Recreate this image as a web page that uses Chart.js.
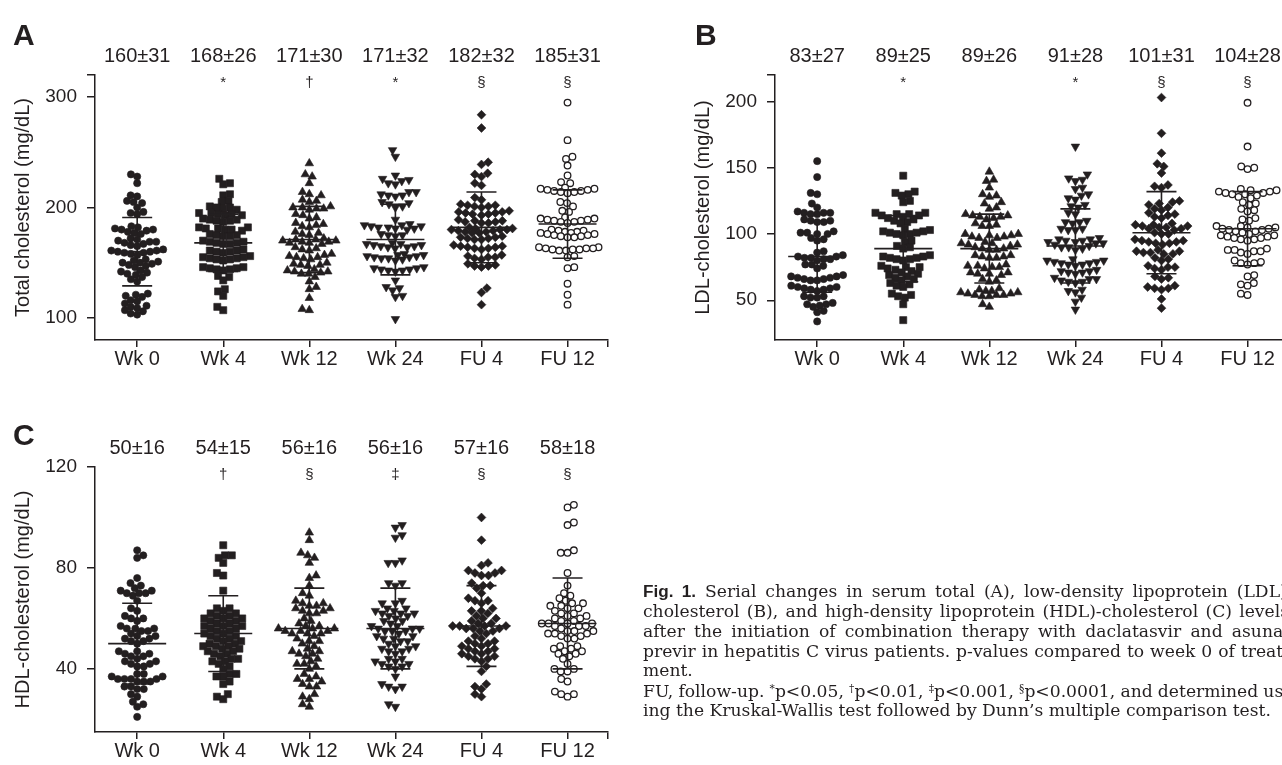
<!DOCTYPE html>
<html><head><meta charset="utf-8">
<script src="https://cdn.jsdelivr.net/npm/chart.js@4.4.1/dist/chart.umd.min.js"></script>
<style>
html,body{margin:0;padding:0;background:#fff;}
body{width:1282px;height:765px;overflow:hidden;position:relative;}
canvas{position:absolute;}
#cap{position:absolute;left:643px;top:0;width:700px;height:765px;color:#231f20;font-family:'DejaVu Serif',serif;}
#cap .ln{position:absolute;left:0;white-space:nowrap;line-height:1;}
#cap b{font-family:'Liberation Sans',Arial,sans-serif;font-weight:bold;}
#cap sup{font-size:0.62em;vertical-align:0.45em;line-height:0;}
</style></head>
<body>
<canvas id="cA" width="640" height="380" style="left:0;top:0"></canvas>
<canvas id="cB" width="640" height="380" style="left:680px;top:0"></canvas>
<canvas id="cC" width="640" height="373" style="left:0;top:392px"></canvas>
<div id="cap">
<div class="ln j" data-b="598"><b>Fig.&nbsp;1.</b> Serial changes in serum total (A), low-density lipoprotein (LDL)-</div>
<div class="ln j" data-b="618">cholesterol (B), and high-density lipoprotein (HDL)-cholesterol (C) levels</div>
<div class="ln j" data-b="638">after the initiation of combination therapy with daclatasvir and asuna-</div>
<div class="ln j" data-b="658">previr in hepatitis C virus patients. p-values compared to week 0 of treat-</div>
<div class="ln" data-b="677">ment.</div>
<div class="ln j" data-b="698">FU, follow-up. <sup>*</sup>p&lt;0.05, <sup>†</sup>p&lt;0.01, <sup>‡</sup>p&lt;0.001, <sup>§</sup>p&lt;0.0001, and determined us-</div>
<div class="ln" id="lastLine" data-b="717">ing the Kruskal-Wallis test followed by Dunn’s multiple comparison test.</div>
</div>
<script>
// ---------------- data ----------------
const categories = ['Wk 0', 'Wk 4', 'Wk 12', 'Wk 24', 'FU 4', 'FU 12'];

// (A) Total cholesterol, mg/dL
const tcWk0 = [230, 228, 222, 211, 210, 206, 205, 204, 200, 196, 195, 194,
  183, 182, 181, 180, 180, 179, 178, 177, 176,
  172, 171, 170, 169, 169, 168, 167, 166, 165,
  162, 161, 161, 160, 160, 159, 159, 158, 157,
  153, 152, 151, 150, 150, 149, 148, 147, 146,
  143, 142, 141, 140, 139, 137, 135, 133,
  122, 121, 120, 119, 116, 115, 113, 111, 110, 109, 107, 106, 104, 103];
const tcWk4 = [226, 222, 221, 212, 211, 206, 205,
  201, 200, 200, 199, 198, 195, 195, 194, 194, 193, 193,
  190, 189, 189, 188, 188, 187, 182, 182, 181, 181, 180, 180, 179,
  176, 175, 175, 174, 174, 170, 169, 169, 168, 168, 167, 167,
  162, 161, 161, 160, 160, 159, 156, 155, 155, 154, 154, 153, 153, 152,
  146, 146, 145, 145, 144, 144, 143, 138, 137, 134, 126, 124, 120, 110, 107];
const tcWk12 = [240, 230, 228, 222, 214, 212, 211, 207, 206, 205,
  201, 200, 200, 199, 199, 198, 194, 193, 191, 190,
  186, 185, 184, 183, 182, 178, 177, 176, 175,
  172, 171, 171, 170, 170, 169, 169, 168, 168, 167,
  164, 163, 162, 161, 158, 157, 156, 155, 155, 154, 153,
  150, 149, 148, 148, 147, 144, 143, 142, 142, 141, 140, 140,
  137, 133, 128, 126, 118, 108, 107];
const tcWk24 = [252, 246, 229, 226, 225, 224, 222, 221, 214, 214, 212, 211, 211, 210,
  205, 204, 203, 201, 200, 189,
  185, 184, 184, 183, 183, 182, 182, 181, 181, 180, 176, 175, 175, 174,
  168, 167, 167, 166, 166, 165, 165, 164, 164, 163,
  158, 157, 157, 156, 156, 155, 155, 154, 154, 153, 152,
  146, 145, 145, 144, 144, 143, 143, 142, 134, 128, 127, 125, 120, 119, 99];
const tcFU4 = [284, 272, 241, 239, 231, 230, 228, 222, 220,
  209, 207, 203, 202, 202, 201, 201, 200, 197, 196, 196, 195, 195, 194, 194, 193,
  189, 188, 188, 187, 187, 186, 186,
  182, 181, 181, 180, 180, 180, 179, 179, 178, 178, 177, 177,
  174, 173, 173, 172, 172, 171, 171, 166, 165, 165, 164, 164, 163, 163, 162,
  157, 156, 155, 155, 154, 153, 149, 148, 147, 147, 146, 127, 123, 112];
const tcFU12 = [295, 261, 246, 244, 238, 229, 223, 222,
  218, 217, 217, 216, 216, 215, 215, 214, 214, 213, 205, 204, 201, 197, 196,
  191, 190, 190, 189, 189, 188, 188, 187, 187, 186,
  180, 179, 179, 178, 178, 177, 177, 176, 176, 175, 175, 174, 174, 173, 173,
  164, 164, 163, 163, 163, 162, 162, 162, 161, 161, 156, 155, 146, 145, 131, 121, 112];
const tcMeans = [160, 168, 171, 171, 182, 185];
const tcSDs = [31, 26, 30, 32, 32, 31];
const tcSig = ['', '*', '†', '*', '§', '§'];
const tcTicks = [100, 200, 300];
const tcRange = [80, 320];

// (B) LDL-cholesterol, mg/dL
const ldlWk0 = [155, 143, 131, 130, 123, 120, 117, 116, 116, 116, 115, 115,
  111, 110, 110, 109, 109, 102, 101, 101, 100, 100, 97, 96, 95, 87, 86,
  84, 83, 83, 82, 82, 81, 81, 80, 77, 77, 76, 74,
  69, 68, 68, 67, 67, 66, 66, 65, 65, 61, 60, 60, 59, 59, 58, 58, 57,
  53, 53, 52, 52, 48, 47, 47, 46, 45, 42, 41, 34];
const ldlWk4 = [144, 132, 131, 130, 129, 125, 124,
  116, 116, 115, 115, 114, 114, 113, 112, 111, 110, 109, 108,
  104, 103, 102, 102, 101, 101, 100, 100, 99, 95, 94, 91, 90, 89,
  84, 83, 83, 82, 82, 81, 81, 80,
  76, 75, 75, 74, 73, 72, 71, 70, 69, 68, 67, 66,
  65, 63, 62, 61, 60, 55, 54, 53, 52, 47, 35];
const ldlWk12 = [147, 141, 140, 135, 130, 129, 128, 124, 123, 120, 119,
  115, 114, 114, 113, 113, 112, 111, 108, 107, 106, 106,
  100, 100, 99, 99, 98, 98, 97, 97, 94, 93, 93, 92, 92, 91, 90, 89, 89, 88, 88,
  84, 84, 83, 83, 82, 82, 77, 76, 76, 75, 75, 74, 71, 71, 70, 70, 69, 66, 65, 64,
  59, 58, 57, 57, 56, 56, 55, 55, 54, 54, 54, 53, 53, 47, 45];
const ldlWk24 = [166, 145, 142, 141, 140, 135, 134, 130, 129, 127, 126,
  122, 121, 120, 116, 115, 110, 109, 109, 108, 104, 104, 103, 103,
  97, 96, 96, 95, 95, 94, 94, 93, 93, 92, 91, 90, 90, 89, 88,
  81, 80, 80, 79, 79, 78, 78, 77, 77, 76, 73, 72, 72, 71, 71, 70,
  67, 66, 66, 65, 64, 64, 63, 58, 57, 56, 52, 49, 43];
const ldlFU4 = [203, 176, 161, 153, 151, 146, 137, 136, 135,
  125, 124, 123, 122, 120, 119, 118, 116, 115, 114, 113, 112,
  108, 107, 107, 106, 106, 105, 105, 104, 104, 103, 101, 100, 100,
  96, 95, 95, 94, 94, 93, 93, 92, 88, 87, 87, 86, 86, 85, 85, 82, 81, 80,
  76, 75, 75, 74, 73, 68, 67, 66, 61, 60, 59, 59, 58, 51, 44];
const ldlFU12 = [199, 166, 151, 150, 149,
  134, 133, 133, 132, 132, 131, 131, 130, 130, 129, 128, 127,
  124, 123, 122, 119, 118, 117, 112, 111, 110,
  106, 106, 105, 105, 104, 104, 103, 103, 102, 102, 101,
  100, 99, 99, 98, 98, 97, 97, 96, 96, 95,
  89, 88, 88, 87, 87, 86, 85, 80, 79, 78, 78, 77,
  69, 68, 63, 62, 61, 55, 54];
const ldlMeans = [83, 89, 89, 91, 101, 104];
const ldlSDs = [27, 25, 26, 28, 31, 28];
const ldlSig = ['', '*', '', '*', '§', '§'];
const ldlTicks = [50, 100, 150, 200];
const ldlRange = [20, 220];

// (C) HDL-cholesterol, mg/dL
const hdlWk0 = [87, 85, 84, 76, 74, 73, 72, 71, 71, 70, 70, 70, 69,
  67, 64, 63, 61, 60, 60, 59, 57, 56, 56, 56, 55, 55, 54,
  53, 53, 52, 52, 51, 51, 50, 47, 47, 46, 46, 45, 45, 44,
  43, 43, 42, 42, 41, 41, 38, 38, 37, 37, 36, 36, 36, 36, 35, 35, 35,
  33, 33, 32, 32, 30, 29, 27, 26, 25, 21];
const hdlWk4 = [89, 85, 85, 84, 82, 78, 77, 71, 64, 64, 63,
  62, 62, 61, 61, 60, 60, 60, 59, 59, 58, 58, 57,
  57, 57, 56, 56, 55, 55, 54, 54, 53, 53, 52, 52, 51, 51, 50, 50,
  49, 49, 49, 48, 48, 47, 47, 46, 46, 45, 44, 44, 43, 43, 42,
  41, 40, 38, 38, 37, 37, 35, 34, 30, 29, 28];
const hdlWk12 = [94, 91, 86, 85, 84, 82, 77, 76, 73, 70, 69,
  67, 66, 66, 65, 65, 64, 64, 63, 63, 62, 62, 60, 59,
  58, 57, 57, 56, 56, 56, 55, 55, 55, 54, 54, 54, 53,
  52, 51, 51, 50, 49, 48, 47, 47, 46, 46, 45, 44,
  43, 42, 42, 41, 40, 38, 37, 36, 36, 35, 34, 33, 33, 30, 29, 28, 26, 25];
const hdlWk24 = [97, 96, 93, 92, 83, 82, 82, 74, 74, 73, 67, 66, 66,
  64, 64, 63, 63, 62, 62, 62, 61, 61, 60, 59, 59, 58,
  57, 57, 56, 56, 56, 55, 55, 55, 54, 53, 53, 52, 52, 51, 51,
  50, 49, 49, 48, 48, 47, 47, 46, 44, 44, 43, 43, 42, 42, 41, 41, 40,
  37, 34, 33, 33, 32, 26, 25];
const hdlFU4 = [100, 91, 82, 81, 79, 79, 78, 78, 77, 77, 74, 73, 73, 72, 70,
  68, 67, 67, 66, 64, 63, 63, 62, 61, 60, 60, 59,
  58, 58, 57, 57, 57, 57, 56, 56, 56, 55, 55, 54, 53, 52, 51, 51, 50,
  50, 49, 49, 48, 48, 47, 47, 46, 46, 45, 45, 44, 44, 43, 41, 39,
  34, 33, 32, 30, 29];
const hdlFU12 = [105, 104, 98, 97, 87, 86, 86, 78, 73, 70, 69, 68, 67, 66, 66,
  65, 65, 64, 64, 63, 62, 62, 61, 61, 60, 60,
  59, 59, 58, 58, 58, 58, 57, 57, 57, 56, 55, 55, 55, 54, 54, 54, 53, 53, 52, 52,
  49, 49, 48, 48, 47, 47, 46, 46, 45, 44, 42, 40, 40, 39, 39,
  36, 35, 31, 30, 30, 29];
const hdlMeans = [50, 54, 56, 56, 57, 58];
const hdlSDs = [16, 15, 16, 16, 16, 18];
const hdlSig = ['', '†', '§', '‡', '§', '§'];
const hdlTicks = [40, 80, 120];
const hdlRange = [15, 120];

// ---------------- style ----------------
const INK = '#231f20';
const FONT = "'Liberation Sans', Arial, sans-serif";
const X_MIN = -0.49, X_MAX = 5.47;
const SWARM_HALF = 31;
const markerStyles = [
  { style: 'circle', radius: 3.6, fill: INK, border: 0.6, d: 6.6 },
  { style: 'rect', radius: 5.0, fill: INK, border: 0.6, d: 6.8 },
  { style: 'triangle', radius: 4.9, fill: INK, border: 0.6, d: 7.2 },
  { style: 'triangle', radius: 4.9, fill: INK, border: 0.6, d: 7.2, rotation: 180 },
  { style: 'rectRot', radius: 4.4, fill: INK, border: 0.6, d: 7.0 },
  { style: 'circle', radius: 3.3, fill: '#ffffff', border: 1.3, d: 6.8 }
];

// compact beeswarm offsets (pixels), capped in width; overlaps when crowded
function swarm(vals, ypx, d, half) {
  const order = vals.map((v, i) => i).sort((a, b) => vals[a] - vals[b]);
  const placed = [];
  const xs = new Array(vals.length).fill(0);
  order.forEach((i, k) => {
    const y = ypx(vals[i]);
    const near = placed.filter(p => Math.abs(p.y - y) < d);
    const cands = [0];
    near.forEach(p => {
      const dx = Math.sqrt(Math.max(0, d * d - (p.y - y) * (p.y - y)));
      cands.push(p.x + dx + 0.01, p.x - dx - 0.01);
    });
    const sign = (k % 2) ? 1 : -1;
    cands.sort((a, b) => (Math.abs(a) - Math.abs(b)) || (sign * (a - b)));
    let best = null;
    for (const c of cands) {
      if (Math.abs(c) > half) continue;
      if (near.every(p => (p.x - c) * (p.x - c) + (p.y - y) * (p.y - y) >= d * d - 0.05)) { best = c; break; }
    }
    if (best === null) {
      let bestScore = -1;
      for (let c = -half; c <= half + 1e-9; c += 0.5) {
        let s = Infinity;
        near.forEach(p => { s = Math.min(s, Math.hypot(p.x - c, p.y - y)); });
        if (s > bestScore + 1e-6 || (Math.abs(s - bestScore) <= 1e-6 && Math.abs(c) < Math.abs(best))) {
          bestScore = s; best = c;
        }
      }
    }
    placed.push({ x: best, y });
    xs[i] = best;
  });
  return xs;
}

const panelPlugin = {
  id: 'panel',
  afterDatasetsDraw(chart, args, o) {
    const { ctx, scales: { x, y } } = chart;
    ctx.save();
    ctx.strokeStyle = INK;
    ctx.lineWidth = 1.6;
    o.means.forEach((m, i) => {
      const cx = x.getPixelForValue(i);
      const ym = y.getPixelForValue(m);
      const yt = y.getPixelForValue(m + o.sds[i]);
      const yb = y.getPixelForValue(m - o.sds[i]);
      ctx.beginPath();
      ctx.moveTo(cx - 29, ym); ctx.lineTo(cx + 29, ym);
      ctx.moveTo(cx, yt); ctx.lineTo(cx, yb);
      ctx.moveTo(cx - 15, yt); ctx.lineTo(cx + 15, yt);
      ctx.moveTo(cx - 15, yb); ctx.lineTo(cx + 15, yb);
      ctx.stroke();
    });
    ctx.restore();
  },
  afterDraw(chart, args, o) {
    const { ctx, chartArea, scales: { x } } = chart;
    ctx.save();
    ctx.fillStyle = INK;
    ctx.textAlign = 'center';
    ctx.textBaseline = 'alphabetic';
    o.means.forEach((m, i) => {
      const cx = x.getPixelForValue(i);
      ctx.font = '20px ' + FONT;
      ctx.fillText(m + '±' + o.sds[i], cx, chartArea.top - 13);
      if (o.sig[i]) {
        ctx.font = '15px ' + FONT;
        ctx.fillText(o.sig[i], cx, chartArea.top + 12);
      }
    });
    ctx.font = 'bold 30px ' + FONT;
    ctx.textAlign = 'left';
    ctx.fillText(o.letter, o.letterX, o.letterY);
    ctx.translate(23, (chartArea.top + chartArea.bottom) / 2);
    ctx.rotate(-Math.PI / 2);
    ctx.font = '20px ' + FONT;
    ctx.textAlign = 'center';
    ctx.textBaseline = 'middle';
    ctx.fillText(o.title, 0, 0);
    ctx.restore();
  }
};

function makePanel(id, cfg) {
  const el = document.getElementById(id);
  const H = el.height;
  const tickVals = cfg.ticks.slice();
  if (!tickVals.includes(cfg.range[1])) tickVals.push(cfg.range[1]);
  const chart = new Chart(el, {
    type: 'scatter',
    data: {
      datasets: cfg.groups.map((vals, i) => ({
        label: categories[i],
        data: vals.map(v => ({ x: i, y: v })),
        pointStyle: markerStyles[i].style,
        pointRotation: markerStyles[i].rotation || 0,
        pointRadius: markerStyles[i].radius,
        pointHoverRadius: markerStyles[i].radius,
        pointBackgroundColor: markerStyles[i].fill,
        backgroundColor: markerStyles[i].fill,
        pointBorderColor: INK,
        borderColor: INK,
        pointBorderWidth: markerStyles[i].border,
        showLine: false,
        clip: false
      }))
    },
    options: {
      responsive: false,
      animation: false,
      events: [],
      layout: { padding: { top: 75, right: 32, left: 0, bottom: 0 } },
      plugins: {
        legend: { display: false },
        tooltip: { enabled: false },
        panel: cfg
      },
      scales: {
        x: {
          type: 'linear', min: X_MIN, max: X_MAX,
          afterBuildTicks: ax => { ax.ticks = categories.map((c, i) => ({ value: i })).concat([{ value: X_MAX }]); },
          afterFit: ax => { ax.height = H - 75 - 265; },
          ticks: {
            callback: v => (categories[v] !== undefined ? categories[v] : ''),
            font: { family: FONT, size: 20 }, color: INK, padding: 0,
            autoSkip: false, maxRotation: 0, minRotation: 0
          },
          grid: { drawOnChartArea: false, drawTicks: true, tickLength: 7, color: INK, lineWidth: 1.5 },
          border: { display: true, color: INK, width: 1.5 }
        },
        y: {
          type: 'linear', min: cfg.range[0], max: cfg.range[1],
          afterBuildTicks: ax => { ax.ticks = tickVals.map(v => ({ value: v })); },
          afterFit: ax => { ax.width = 95; },
          ticks: {
            callback: v => (cfg.ticks.includes(v) ? String(v) : ''),
            font: { family: FONT, size: 19 }, color: INK, padding: 10,
            autoSkip: false
          },
          grid: { drawOnChartArea: false, drawTicks: true, tickLength: 8, color: INK, lineWidth: 1.5 },
          border: { display: true, color: INK, width: 1.5 }
        }
      }
    },
    plugins: [panelPlugin]
  });
  // lay the dots out side by side (beeswarm) using the chart's own scales
  const xs = chart.scales.x, ys = chart.scales.y;
  const unit = xs.getPixelForValue(1) - xs.getPixelForValue(0);
  chart.data.datasets.forEach((ds, i) => {
    const vals = cfg.groups[i];
    const offs = swarm(vals, v => ys.getPixelForValue(v), markerStyles[i].d, SWARM_HALF);
    ds.data = vals.map((v, k) => ({ x: i + offs[k] / unit, y: v }));
  });
  chart.update('none');
  return chart;
}

makePanel('cA', {
  groups: [tcWk0, tcWk4, tcWk12, tcWk24, tcFU4, tcFU12],
  means: tcMeans, sds: tcSDs, sig: tcSig, ticks: tcTicks, range: tcRange,
  letter: 'A', letterX: 13, letterY: 45, title: 'Total cholesterol (mg/dL)'
});
makePanel('cB', {
  groups: [ldlWk0, ldlWk4, ldlWk12, ldlWk24, ldlFU4, ldlFU12],
  means: ldlMeans, sds: ldlSDs, sig: ldlSig, ticks: ldlTicks, range: ldlRange,
  letter: 'B', letterX: 15, letterY: 45, title: 'LDL-cholesterol (mg/dL)'
});
makePanel('cC', {
  groups: [hdlWk0, hdlWk4, hdlWk12, hdlWk24, hdlFU4, hdlFU12],
  means: hdlMeans, sds: hdlSDs, sig: hdlSig, ticks: hdlTicks, range: hdlRange,
  letter: 'C', letterX: 13, letterY: 53, title: 'HDL-cholesterol (mg/dL)'
});

// ---------------- caption layout ----------------
(function () {
  const CAP_W = 646;
  const cap = document.getElementById('cap');
  const lines = Array.from(cap.querySelectorAll('.ln'));
  const last = document.getElementById('lastLine');
  cap.style.fontSize = '16px';
  const w16 = last.getBoundingClientRect().width;
  const fs = 16 * 628.7 / w16;
  cap.style.fontSize = fs + 'px';
  lines.forEach(el => {
    el.style.top = (+el.dataset.b - 0.846 * fs) + 'px';
    if (el.classList.contains('j')) {
      el.style.wordSpacing = '0px';
      const w = el.getBoundingClientRect().width;
      const n = (el.textContent.match(/ /g) || []).length;
      el.style.wordSpacing = ((CAP_W - w) / n) + 'px';
    }
  });
})();
</script>
</body></html>
